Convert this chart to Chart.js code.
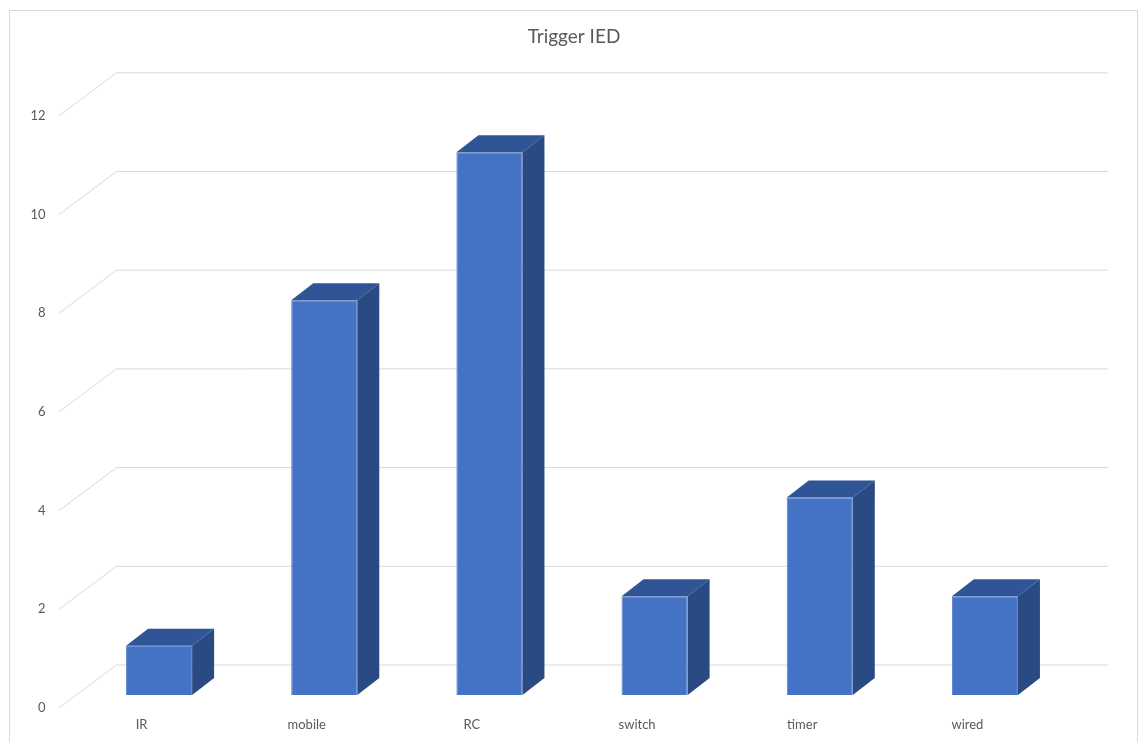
<!DOCTYPE html>
<html lang="en">
<head>
  <meta charset="UTF-8">
  <title>Trigger IED</title>
  <script src="https://cdn.jsdelivr.net/npm/chart.js"></script>
  <style>
    html, body { margin: 0; padding: 0; background: #fff; }
    #wrap { position: relative; width: 1138px; height: 742px; }
    /* chart frame */
    #frame {
      position: absolute; left: 9px; top: 10px; right: 0; bottom: -2px;
      border: 1px solid #d9d9d9; border-bottom: none; pointer-events: none;
    }
  </style>
</head>
<body>
  <div id="wrap">
    <canvas id="triggerChart" width="1138" height="742"></canvas>
    <div id="frame"></div>
  </div>

  <script>
    // Данные
    const categories = ['IR', 'mobile', 'RC', 'switch', 'timer', 'wired'];
    const counts = [1, 8, 11, 2, 4, 2];
    const yTicks = [0, 2, 4, 6, 8, 10, 12];

    const FONT = 'Lato, "Open Sans", sans-serif';
    const TEXT = '#595959';
    const GRID = '#d9d9d9';

    // 3D-смещения: глубина столбца, передняя плоскость подписей, задняя стенка
    const DEPTH = { x: 22, y: -17 };
    const FRONT = { x: -17.5, y: 13 };
    const BACK = { x: 40, y: -30 };

    // Сетка: наклонный отрезок от подписи к задней стенке + горизонталь
    const grid3d = {
      id: 'grid3d',
      beforeDatasetsDraw(chart) {
        const { ctx, chartArea, scales } = chart;
        const y = scales.y;
        ctx.save();
        ctx.strokeStyle = GRID;
        ctx.lineWidth = 1;
        yTicks.forEach(v => {
          const p = y.getPixelForValue(v);
          ctx.beginPath();
          ctx.moveTo(chartArea.left + FRONT.x, p + FRONT.y);
          ctx.lineTo(chartArea.left + BACK.x, p + BACK.y);
          ctx.lineTo(chartArea.right + BACK.x, p + BACK.y);
          ctx.stroke();
        });
        ctx.restore();
      },
      // боковая и верхняя грани столбцов
      afterDatasetsDraw(chart) {
        const { ctx } = chart;
        const meta = chart.getDatasetMeta(0);
        ctx.save();
        meta.data.forEach(bar => {
          const { x, y, base, width } = bar.getProps(['x', 'y', 'base', 'width'], true);
          const l = x - width / 2, r = x + width / 2;
          // верх
          ctx.fillStyle = '#2f5597';
          ctx.beginPath();
          ctx.moveTo(l, y);
          ctx.lineTo(l + DEPTH.x, y + DEPTH.y);
          ctx.lineTo(r + DEPTH.x, y + DEPTH.y);
          ctx.lineTo(r, y);
          ctx.closePath();
          ctx.fill();
          // бок
          ctx.fillStyle = '#294a82';
          ctx.beginPath();
          ctx.moveTo(r, y);
          ctx.lineTo(r + DEPTH.x, y + DEPTH.y);
          ctx.lineTo(r + DEPTH.x, base + DEPTH.y);
          ctx.lineTo(r, base);
          ctx.closePath();
          ctx.fill();
        });
        ctx.restore();
      }
    };

    const ctx = document.getElementById('triggerChart').getContext('2d');
    new Chart(ctx, {
      type: 'bar',
      data: {
        labels: categories,
        datasets: [{
          label: 'Trigger IED',
          data: counts,
          backgroundColor: '#4472c4',
          borderColor: '#5580c9',
          borderWidth: 1,
          categoryPercentage: 1,
          barPercentage: 0.4
        }]
      },
      options: {
        responsive: false,
        animation: false,
        layout: { padding: { left: 10, right: 0, top: 0, bottom: 0 } },
        plugins: {
          legend: { display: false },
          tooltip: { enabled: false },
          title: {
            display: true,
            text: 'Trigger IED',
            color: TEXT,
            font: { family: FONT, size: 19, weight: 'normal' },
            padding: { top: 25, bottom: 55 }
          }
        },
        scales: {
          x: {
            grid: { display: false, drawTicks: false },
            border: { display: false },
            ticks: {
              color: TEXT,
              font: { family: FONT, size: 13 },
              padding: 22,
              labelOffset: FRONT.x,
              maxRotation: 0
            },
            afterFit(scale) { scale.height = 47; }
          },
          y: {
            min: 0,
            max: 12,
            grid: { display: false, drawTicks: false },
            border: { display: false },
            afterBuildTicks(scale) { scale.ticks = yTicks.map(v => ({ value: v })); },
            ticks: {
              color: TEXT,
              font: { family: FONT, size: 13 },
              padding: 31,
              labelOffset: FRONT.y
            },
            afterFit(scale) { scale.width = 66.5; }
          },
          // пустая правая ось — место под заднюю стенку
          yRight: {
            position: 'right',
            min: 0,
            max: 12,
            grid: { display: false, drawTicks: false },
            border: { display: false },
            ticks: { display: false },
            afterFit(scale) { scale.width = 70.5; }
          }
        }
      },
      plugins: [grid3d]
    });
  </script>
</body>
</html>
